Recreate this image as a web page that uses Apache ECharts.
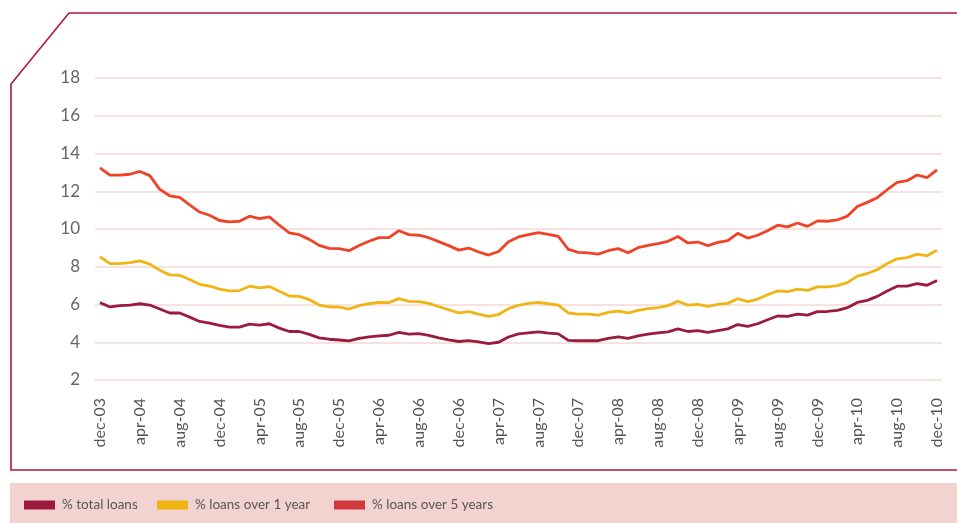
<!DOCTYPE html>
<html>
<head>
<meta charset="utf-8">
<script src="https://cdn.jsdelivr.net/npm/echarts@6/dist/echarts.min.js"></script>
<style>
  html, body { margin: 0; padding: 0; background: #fff; }
  #chart { width: 957px; height: 523px; }
</style>
</head>
<body>
<div id="chart"></div>
<script>
// months dec-03 .. dec-10
var monthNames = ['jan', 'feb', 'mar', 'apr', 'may', 'jun', 'jul', 'aug', 'sep', 'oct', 'nov', 'dec'];
var months = ['dec-03'];
for (var y = 4; y <= 10; y++) {
    for (var m = 0; m < 12; m++) {
        months.push(monthNames[m] + '-' + (y < 10 ? '0' + y : '' + y));
    }
}

var seriesNames = ['% total loans', '% loans over 1 year', '% loans over 5 years'];

var totalLoans = [
    6.10, 5.87, 5.94, 5.97, 6.04, 5.97, 5.76, 5.55, 5.55, 5.33, 5.10, 5.01,
    4.89, 4.80, 4.80, 4.96, 4.91, 4.98, 4.75, 4.57, 4.57, 4.42, 4.23, 4.16,
    4.12, 4.07, 4.20, 4.28, 4.34, 4.37, 4.52, 4.43, 4.46, 4.36, 4.23, 4.12,
    4.04, 4.09, 4.02, 3.93, 4.00, 4.28, 4.44, 4.50, 4.55, 4.48, 4.44, 4.10,
    4.08, 4.08, 4.08, 4.20, 4.28, 4.20, 4.34, 4.43, 4.50, 4.55, 4.71, 4.57,
    4.62, 4.52, 4.62, 4.71, 4.94, 4.84, 4.98, 5.19, 5.39, 5.37, 5.49, 5.44,
    5.62, 5.63, 5.69, 5.83, 6.11, 6.22, 6.43, 6.72, 6.97, 6.97, 7.11, 7.02,
    7.27
];

var loansOver1y = [
    8.53, 8.17, 8.17, 8.22, 8.31, 8.14, 7.82, 7.57, 7.55, 7.32, 7.07, 6.97,
    6.82, 6.72, 6.74, 6.97, 6.88, 6.95, 6.70, 6.45, 6.43, 6.26, 5.97, 5.88,
    5.86, 5.76, 5.94, 6.04, 6.11, 6.10, 6.31, 6.17, 6.15, 6.06, 5.88, 5.72,
    5.56, 5.62, 5.49, 5.37, 5.47, 5.78, 5.96, 6.06, 6.11, 6.04, 5.97, 5.55,
    5.49, 5.49, 5.44, 5.58, 5.65, 5.55, 5.69, 5.78, 5.83, 5.94, 6.17, 5.97,
    6.01, 5.90, 6.01, 6.06, 6.31, 6.15, 6.29, 6.52, 6.72, 6.68, 6.81, 6.75,
    6.93, 6.93, 7.00, 7.16, 7.50, 7.64, 7.84, 8.17, 8.42, 8.48, 8.67, 8.58,
    8.88
];

var loansOver5y = [
    13.24, 12.85, 12.85, 12.90, 13.05, 12.83, 12.10, 11.76, 11.67, 11.28, 10.90, 10.73,
    10.45, 10.38, 10.41, 10.68, 10.55, 10.64, 10.20, 9.80, 9.70, 9.45, 9.13, 8.97,
    8.96, 8.85, 9.13, 9.35, 9.54, 9.54, 9.91, 9.70, 9.67, 9.54, 9.33, 9.12,
    8.88, 8.99, 8.78, 8.62, 8.81, 9.33, 9.58, 9.70, 9.81, 9.72, 9.61, 8.92,
    8.76, 8.74, 8.67, 8.85, 8.96, 8.74, 9.01, 9.13, 9.22, 9.35, 9.60, 9.26,
    9.31, 9.12, 9.29, 9.39, 9.77, 9.52, 9.67, 9.91, 10.20, 10.11, 10.32, 10.14,
    10.43, 10.41, 10.48, 10.68, 11.19, 11.41, 11.66, 12.08, 12.47, 12.56, 12.86, 12.72,
    13.13
];

var lineColors = ['#9b1b3f', '#f0b414', '#ef4328'];
var legendColors = ['#9b1b3f', '#f0b414', '#d23b3b'];
var legendLeft = [19, 152, 329];

var font = 'Lato, "DejaVu Sans", sans-serif';
var myChart = echarts.init(document.getElementById('chart'));

var legends = [];
for (var i = 0; i < seriesNames.length; i++) {
    legends.push({
        left: legendLeft[i],
        top: 493,
        icon: 'rect',
        itemWidth: 31,
        itemHeight: 9,
        itemGap: 0,
        selectedMode: false,
        textStyle: { color: '#555', fontSize: 13.5, fontFamily: font, padding: [0, 0, 0, 2] },
        data: [{ name: seriesNames[i], itemStyle: { color: legendColors[i] } }]
    });
}

var seriesData = [totalLoans, loansOver1y, loansOver5y];
var series = [];
for (var k = 0; k < seriesNames.length; k++) {
    series.push({
        name: seriesNames[k],
        type: 'line',
        data: seriesData[k],
        symbol: 'none',
        z: 10 - k,
        lineStyle: { color: lineColors[k], width: 2.8 },
        itemStyle: { color: lineColors[k] }
    });
}

var options = {
    animation: false,
    backgroundColor: '#fff',
    grid: { left: 95, right: 15, top: 78, bottom: 143 },
    legend: legends,
    // frame with cut corner + pink legend band
    graphic: [
        {
            type: 'rect',
            shape: { x: 10, y: 483, width: 947, height: 40 },
            style: { fill: '#f2d3cf' },
            silent: true
        },
        {
            type: 'polyline',
            shape: { points: [[957, 13], [69, 13], [11, 84], [11, 470], [957, 470]] },
            style: { stroke: '#b0173f', lineWidth: 1.6, fill: null },
            silent: true
        }
    ],
    xAxis: {
        type: 'category',
        data: months,
        boundaryGap: true,
        axisLine: { show: false },
        axisTick: { show: false },
        axisLabel: {
            interval: 3,
            rotate: 90,
            margin: 18,
            color: '#555',
            fontSize: 16,
            fontFamily: font
        }
    },
    yAxis: {
        type: 'value',
        min: 2,
        max: 18,
        interval: 2,
        axisLine: { show: false },
        axisTick: { show: false },
        splitLine: { lineStyle: { color: '#f3d8d3', width: 1.6 } },
        axisLabel: {
            margin: 15,
            color: '#666',
            fontSize: 17,
            fontFamily: font
        }
    },
    series: series
};
myChart.setOption(options, true);
</script>
</body>
</html>
